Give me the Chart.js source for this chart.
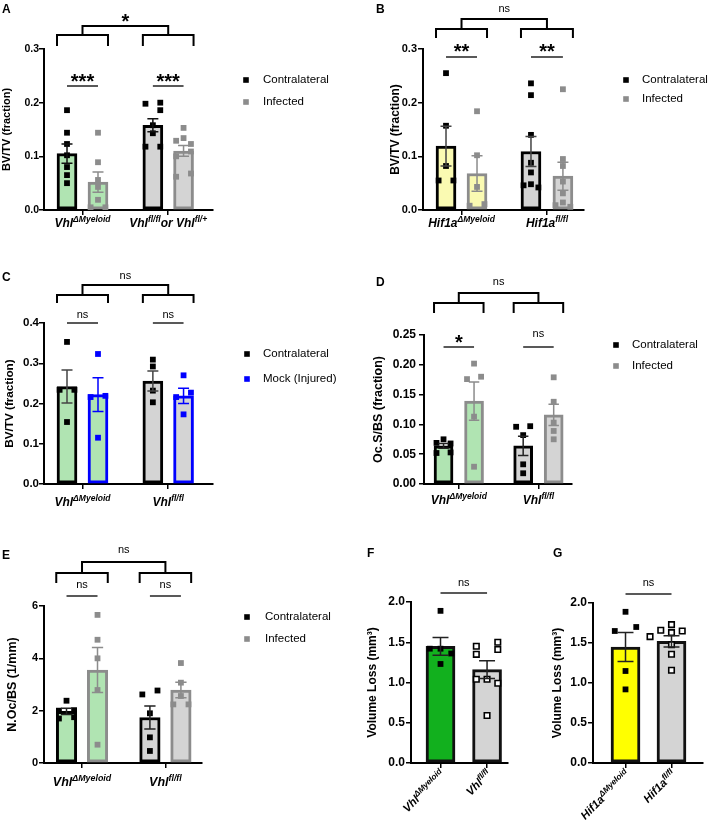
<!DOCTYPE html>
<html>
<head>
<meta charset="utf-8">
<script src="https://cdn.jsdelivr.net/npm/chart.js@4.4.0/dist/chart.umd.min.js"></script>
<style>
  body { margin:0; background:#fff; width:709px; height:829px; position:relative; overflow:hidden; }
  canvas { position:absolute; }
  .tag { position:absolute; font:bold 12px 'Liberation Sans', Arial, sans-serif; line-height:12px; color:#000; z-index:2; }
</style>
</head>
<body>
<div class="tag" style="left:2px;top:3px">A</div>
<div class="tag" style="left:376px;top:3px">B</div>
<div class="tag" style="left:2px;top:271px">C</div>
<div class="tag" style="left:376px;top:276px">D</div>
<div class="tag" style="left:2px;top:549px">E</div>
<div class="tag" style="left:367px;top:547px">F</div>
<div class="tag" style="left:553px;top:547px">G</div>
<script>
const FONT = "'Liberation Sans', Arial, Helvetica, sans-serif";

// ---- A: BV/TV, Vhl myeloid deletion, infected vs contralateral ----
const A_series = ['Contralateral', 'Infected'];
const A_groups = ['Vhl^{ΔMyeloid}', 'Vhl^{fl/fl}or Vhl^{fl/+}'];
const A_yTicks = [0, 0.1, 0.2, 0.3];
const A_mean = [0.105, 0.052, 0.158, 0.110];
const A_sem  = [0.018, 0.019, 0.012, 0.010];
const A_pts  = [
  [0.186, 0.144, 0.123, 0.102, 0.080, 0.065, 0.050],
  [0.144, 0.089, 0.056, 0.043, 0.019, 0.005, 0.005],
  [0.200, 0.198, 0.186, 0.158, 0.143, 0.118, 0.118],
  [0.153, 0.134, 0.129, 0.123, 0.109, 0.100, 0.068, 0.062]
];
const A_sigPairs = ['***', '***'];
const A_sigGroups = '*';

// ---- B: BV/TV, Hif1a myeloid deletion ----
const B_series = ['Contralateral', 'Infected'];
const B_groups = ['Hif1a^{ΔMyeloid}', 'Hif1a^{fl/fl}'];
const B_yTicks = [0, 0.1, 0.2, 0.3];
const B_mean = [0.119, 0.068, 0.109, 0.063];
const B_sem  = [0.037, 0.033, 0.028, 0.026];
const B_pts  = [
  [0.255, 0.157, 0.082, 0.055, 0.055],
  [0.184, 0.102, 0.043, 0.011, 0.008],
  [0.236, 0.214, 0.140, 0.088, 0.070, 0.048, 0.046, 0.042],
  [0.225, 0.095, 0.082, 0.053, 0.031, 0.014, 0.009, 0.006]
];
const B_sigPairs = ['**', '**'];
const B_sigGroups = 'ns';

// ---- C: BV/TV, mock injury ----
const C_series = ['Contralateral', 'Mock (Injured)'];
const C_groups = ['Vhl^{ΔMyeloid}', 'Vhl^{fl/fl}'];
const C_yTicks = [0, 0.1, 0.2, 0.3, 0.4];
const C_mean = [0.242, 0.222, 0.256, 0.219];
const C_sem  = [0.041, 0.042, 0.025, 0.019];
const C_pts  = [
  [0.353, 0.234, 0.234, 0.154],
  [0.323, 0.219, 0.216, 0.115],
  [0.309, 0.292, 0.232, 0.203],
  [0.270, 0.227, 0.216, 0.173]
];
const C_sigPairs = ['ns', 'ns'];
const C_sigGroups = 'ns';

// ---- D: Oc.S/BS ----
const D_series = ['Contralateral', 'Infected'];
const D_groups = ['Vhl^{ΔMyeloid}', 'Vhl^{fl/fl}'];
const D_yTicks = [0, 0.05, 0.10, 0.15, 0.20, 0.25];
const D_mean = [0.064, 0.139, 0.064, 0.116];
const D_sem  = [0.004, 0.032, 0.016, 0.018];
const D_pts  = [
  [0.075, 0.069, 0.068, 0.053, 0.052],
  [0.202, 0.180, 0.176, 0.113, 0.029],
  [0.097, 0.096, 0.082, 0.033, 0.018],
  [0.179, 0.138, 0.103, 0.089, 0.075]
];
const D_sigPairs = ['*', 'ns'];
const D_sigGroups = 'ns';

// ---- E: N.Oc/BS ----
const E_series = ['Contralateral', 'Infected'];
const E_groups = ['Vhl^{ΔMyeloid}', 'Vhl^{fl/fl}'];
const E_yTicks = [0, 2, 4, 6];
const E_mean = [1.97, 3.55, 1.74, 2.79];
const E_sem  = [0.12, 0.86, 0.44, 0.30];
const E_pts  = [
  [2.38, 2.02, 2.00, 1.75, 1.70],
  [5.66, 4.71, 4.00, 2.79, 0.70],
  [2.77, 2.62, 1.90, 0.98, 0.46],
  [3.82, 3.07, 2.56, 2.24, 2.24]
];
const E_sigPairs = ['ns', 'ns'];
const E_sigGroups = 'ns';

// ---- F / G: volume loss ----
const F_groups = ['Vhl^{ΔMyeloid}', 'Vhl^{fl/fl}'];
const F_yTicks = [0, 0.5, 1.0, 1.5, 2.0];
const F_mean = [1.45, 1.16];
const F_sem  = [0.11, 0.11];
const F_pts  = [
  [1.89, 1.42, 1.42, 1.36, 1.23],
  [1.50, 1.45, 1.41, 1.35, 1.04, 1.04, 0.99, 0.59]
];
const F_sigPairs = ['ns'];

const G_groups = ['Hif1a^{ΔMyeloid}', 'Hif1a^{fl/fl}'];
const G_yTicks = [0, 0.5, 1.0, 1.5, 2.0];
const G_mean = [1.45, 1.52];
const G_sem  = [0.18, 0.07];
const G_pts  = [
  [1.89, 1.70, 1.65, 1.15, 0.92],
  [1.73, 1.66, 1.65, 1.63, 1.58, 1.48, 1.36, 1.16]
];
const G_sigPairs = ['ns'];

// colours
const GREEN = '#b0e4b2', GREY = '#d4d4d4', PALEY = '#fafab2';
const BLK = '#000000', GRY = '#8c8c8c', BLUE = '#0000ff';

const four = (fills, edges, err, pfill) => ({fills, edges, err, pfill, pedge: pfill, pbw: 0});

const panels = [
  Object.assign({series: A_series, groups: A_groups, yTicks: A_yTicks, mean: A_mean, sem: A_sem, pts: A_pts,
    sigPairs: A_sigPairs, sigGroups: A_sigGroups, sercol: [BLK, GRY],
    box: [0, 0, 354, 270], area: [44, 49, 213, 210], slots: [0, 1, 2.77, 3.76], xRange: [-0.742, 4.71], barW: 20,
    yTitle: 'BV/TV (fraction)', titleSize: 11, titlePad: 0.4, tickSize: 10.5, tickPad: 0, dec: 1,
    br: {top: -23, group: -14, drop: 11, pair: 37, topLab: -33, pairLab: [27, 27]},
    legend: {x: 33, gap: 17, y: [31, 53]}, catDy: 17, catSize: 12},
    four([GREEN, GREEN, GREY, GREY], [BLK, GRY, BLK, GRY], ['#111', GRY, '#111', GRY], [BLK, GRY, BLK, GRY])),
  Object.assign({series: B_series, groups: B_groups, yTicks: B_yTicks, mean: B_mean, sem: B_sem, pts: B_pts,
    sigPairs: B_sigPairs, sigGroups: B_sigGroups, sercol: [BLK, GRY],
    box: [354, 0, 355, 270], area: [423, 49, 584, 210], slots: [0, 1, 2.74, 3.77], xRange: [-0.742, 4.45], barW: 20,
    yTitle: 'BV/TV (fraction)', titleSize: 12, titlePad: 34.8, tickSize: 11, tickPad: 1, dec: 1,
    br: {top: -30, group: -20, drop: 9, pair: 8, topLab: -40, pairLab: [-3, -3]},
    legend: {x: 42, gap: 16, y: [31, 50]}, catDy: 17, catSize: 12},
    four([PALEY, PALEY, GREY, GREY], [BLK, GRY, BLK, GRY], ['#444', GRY, '#444', GRY], [BLK, GRY, BLK, GRY])),
  Object.assign({series: C_series, groups: C_groups, yTicks: C_yTicks, mean: C_mean, sem: C_sem, pts: C_pts,
    sigPairs: C_sigPairs, sigGroups: C_sigGroups, sercol: [BLK, BLUE],
    box: [0, 262, 354, 278], area: [44, 323, 213, 484], slots: [0, 1, 2.77, 3.76], xRange: [-0.742, 4.71], barW: 20,
    yTitle: 'BV/TV (fraction)', titleSize: 11.7, titlePad: 3, tickSize: 11.5, tickPad: 0, dec: 1,
    br: {top: -38, group: -28, drop: 8, pair: 0, topLab: -47, pairLab: [-8.5, -8.5]},
    legend: {x: 34, gap: 16, y: [31, 56]}, catDy: 22, catSize: 12},
    four([GREEN, GREEN, GREY, GREY], [BLK, BLUE, BLK, BLUE], ['#444', BLUE, '#444', BLUE], [BLK, BLUE, BLK, BLUE])),
  Object.assign({series: D_series, groups: D_groups, yTicks: D_yTicks, mean: D_mean, sem: D_sem, pts: D_pts,
    sigPairs: D_sigPairs, sigGroups: D_sigGroups, sercol: [BLK, GRY],
    box: [354, 266, 355, 274], area: [424, 335, 572, 484], slots: [0, 1, 2.61, 3.61], xRange: [-0.64, 4.21], barW: 19,
    yTitle: 'Oc.S/BS (fraction)', titleSize: 12.5, titlePad: 17.4, tickSize: 12, tickPad: 3, dec: 2,
    br: {top: -42, group: -32, drop: 10, pair: 12, topLab: -53, pairLab: [2, -1]},
    legend: {x: 44, gap: 16, y: [10, 31]}, catDy: 20, catSize: 12},
    four([GREEN, GREEN, GREY, GREY], [BLK, GRY, BLK, GRY], ['#222', GRY, '#222', GRY], [BLK, GRY, BLK, GRY])),
  Object.assign({series: E_series, groups: E_groups, yTicks: E_yTicks, mean: E_mean, sem: E_sem, pts: E_pts,
    sigPairs: E_sigPairs, sigGroups: E_sigGroups, sercol: [BLK, GRY],
    box: [0, 540, 354, 289], area: [44, 606, 202, 763], slots: [0, 1, 2.69, 3.69], xRange: [-0.726, 4.37], barW: 20.5,
    yTitle: 'N.Oc/BS (1/mm)', titleSize: 12.5, titlePad: 5.4, tickSize: 11, tickPad: 1, dec: 0,
    br: {top: -44, group: -33, drop: 10, pair: -10, topLab: -56, pairLab: [-21, -21]},
    legend: {x: 45, gap: 18, y: [11, 33]}, catDy: 23, catSize: 12.5},
    four([GREEN, GREEN, GREY, GREY], [BLK, GRY, BLK, GRY], ['#222', GRY, '#222', GRY], [BLK, GRY, BLK, GRY])),
  {groups: F_groups, yTicks: F_yTicks, mean: F_mean, sem: F_sem, pts: F_pts, sigPairs: F_sigPairs,
    box: [354, 550, 196, 279], area: [411, 602, 508, 763], slots: [0, 1], xRange: [-0.634, 1.45], barW: 29,
    yTitle: 'Volume Loss (mm³)', titleSize: 12, titlePad: 11.8, tickSize: 12, tickPad: 1, dec: 1,
    br: {pair: -9, pairLab: [-19]}, rotate: true, catSize: 11.5,
    fills: ['#12b01e', GREY], edges: ['#111', '#111'], err: ['#222', '#222'],
    pfill: [BLK, '#ffffff'], pedge: [BLK, BLK], pbw: [0, 1.6]},
  {groups: G_groups, yTicks: G_yTicks, mean: G_mean, sem: G_sem, pts: G_pts, sigPairs: G_sigPairs,
    box: [550, 550, 159, 279], area: [593, 603, 703, 763], slots: [0, 1], xRange: [-0.707, 1.685], barW: 29,
    yTitle: 'Volume Loss (mm³)', titleSize: 12, titlePad: 0, tickSize: 12, tickPad: 1, dec: 1,
    br: {pair: -9, pairLab: [-20]}, rotate: true, catSize: 11.5,
    fills: ['#ffff00', GREY], edges: ['#111', '#111'], err: ['#222', '#222'],
    pfill: [BLK, '#ffffff'], pedge: [BLK, BLK], pbw: [0, 1.6]}
];

// simple beeswarm: spread points that would overlap (pixel offsets)
function swarm(vals, pxY, step, d) {
  const order = vals.map((v, i) => i).sort((a, b) => vals[b] - vals[a]);
  const off = new Array(vals.length).fill(0);
  const placed = [];
  const cands = [0, -step, step, -2 * step, 2 * step];
  for (const i of order) {
    const y = vals[i] * pxY;
    const c = cands.find(c => placed.every(j => Math.abs(vals[j] * pxY - y) >= d || Math.abs(off[j] - c) >= d));
    off[i] = c === undefined ? 0 : c;
    placed.push(i);
  }
  for (const i of order) {
    if (off[i] !== 0) continue;
    const nb = placed.filter(j => j !== i && Math.abs(vals[j] - vals[i]) * pxY < d);
    if (nb.length && nb.every(j => off[j] === -step)) off[i] = step;
  }
  return off;
}

function richParts(str) {
  const parts = [], re = /\^\{([^}]*)\}/g;
  let last = 0, m;
  while ((m = re.exec(str))) {
    if (m.index > last) parts.push({t: str.slice(last, m.index), sup: false});
    parts.push({t: m[1], sup: true});
    last = re.lastIndex;
  }
  if (last < str.length) parts.push({t: str.slice(last), sup: false});
  return parts;
}

function drawRich(ctx, str, x, y, align, size) {
  const parts = richParts(str);
  const f = sup => `italic bold ${sup ? size * 0.71 : size}px ${FONT}`;
  let w = 0;
  parts.forEach(pt => { ctx.font = f(pt.sup); pt.w = ctx.measureText(pt.t).width; w += pt.w; });
  let cx = align === 'center' ? x - w / 2 : x - w;
  ctx.textAlign = 'left'; ctx.textBaseline = 'alphabetic';
  parts.forEach(pt => {
    ctx.font = f(pt.sup);
    ctx.fillText(pt.t, cx, y - (pt.sup ? size * 0.38 : 0));
    cx += pt.w;
  });
}

function sigText(ctx, s, x, cy) {
  ctx.fillStyle = '#000'; ctx.textAlign = 'center'; ctx.textBaseline = 'alphabetic';
  if (s === 'ns') { ctx.font = `11px ${FONT}`; ctx.fillText(s, x, cy + 3); }
  else { ctx.font = `bold 20px ${FONT}`; ctx.fillText(s, x, cy + 11.5); }
}

function drawErrorBars(chart, p) {
  const ctx = chart.ctx, xs = chart.scales.x, ys = chart.scales.y;
  const cap = p.barW * 0.55 / 2;
  ctx.save();
  ctx.lineWidth = 1.5;
  p.mean.forEach((m, i) => {
    const x = xs.getPixelForValue(p.slots[i]);
    const y1 = ys.getPixelForValue(m + p.sem[i]), y0 = ys.getPixelForValue(m - p.sem[i]);
    ctx.strokeStyle = p.err[i];
    ctx.beginPath();
    ctx.moveTo(x, y0); ctx.lineTo(x, y1);
    ctx.moveTo(x - cap, y1); ctx.lineTo(x + cap, y1);
    ctx.moveTo(x - cap, y0); ctx.lineTo(x + cap, y0);
    ctx.stroke();
  });
  ctx.restore();
}

function drawDecor(chart, p) {
  const ctx = chart.ctx, a = chart.chartArea, xs = chart.scales.x;
  const X = i => xs.getPixelForValue(p.slots[i]);
  const hw = p.barW / 2, b = p.br;
  ctx.save();
  // group comparison brackets
  if (b.group !== undefined) {
    ctx.strokeStyle = '#000'; ctx.lineWidth = 2;
    const gy = a.top + b.group, dy = gy + b.drop, ty = a.top + b.top, mids = [];
    for (let g = 0; g < 2; g++) {
      const l = X(2 * g) - hw, r = X(2 * g + 1) + hw;
      mids.push((l + r) / 2);
      ctx.beginPath(); ctx.moveTo(l, dy); ctx.lineTo(l, gy); ctx.lineTo(r, gy); ctx.lineTo(r, dy); ctx.stroke();
    }
    ctx.beginPath(); ctx.moveTo(mids[0], gy); ctx.lineTo(mids[0], ty); ctx.lineTo(mids[1], ty); ctx.lineTo(mids[1], gy); ctx.stroke();
    sigText(ctx, p.sigGroups, (mids[0] + mids[1]) / 2, a.top + b.topLab);
  }
  // pairwise lines
  p.sigPairs.forEach((s, g) => {
    const l = X(2 * g), r = X(2 * g + 1), y = a.top + b.pair;
    ctx.strokeStyle = '#222'; ctx.lineWidth = 1.5;
    ctx.beginPath(); ctx.moveTo(l, y); ctx.lineTo(r, y); ctx.stroke();
    sigText(ctx, s, (l + r) / 2, a.top + b.pairLab[g]);
  });
  // legend
  if (p.legend) {
    p.series.forEach((name, k) => {
      const x = a.right + p.legend.x, y = a.top + p.legend.y[k];
      ctx.fillStyle = p.sercol[k]; ctx.fillRect(x - 2.8, y - 2.8, 5.6, 5.6);
      ctx.fillStyle = '#000'; ctx.font = `11.5px ${FONT}`;
      ctx.textAlign = 'left'; ctx.textBaseline = 'middle';
      ctx.fillText(name, x + p.legend.gap, y);
    });
  }
  // category labels
  ctx.fillStyle = '#000';
  if (p.rotate) {
    p.groups.forEach((g, i) => {
      ctx.save();
      ctx.translate(X(i) + 2, a.bottom + 9);
      ctx.rotate(-Math.PI / 4);
      drawRich(ctx, g, 0, p.catSize * 0.36, 'right', p.catSize);
      ctx.restore();
    });
  } else {
    const ticks = xs.ticks;
    p.groups.forEach((g, i) => drawRich(ctx, g, xs.getPixelForValue(ticks[i].value), a.bottom + p.catDy, 'center', p.catSize));
  }
  ctx.restore();
}

function makePanel(p) {
  const [bx, by, bw, bh] = p.box, [al, at, ar, ab] = p.area;
  const c = document.createElement('canvas');
  c.width = bw; c.height = bh;
  c.style.left = bx + 'px'; c.style.top = by + 'px';
  c.style.width = bw + 'px'; c.style.height = bh + 'px';
  document.body.appendChild(c);

  const xH = 10;
  const yMin = p.yTicks[0], yMax = p.yTicks[p.yTicks.length - 1];
  const pxY = (ab - at) / (yMax - yMin);
  const pxX = (ar - al) / (p.xRange[1] - p.xRange[0]);
  const xTicks = p.slots.length === 4 ? [(p.slots[0] + p.slots[1]) / 2, (p.slots[2] + p.slots[3]) / 2] : p.slots.slice();

  const datasets = [{
    type: 'bar', order: 3,
    data: p.mean.map((m, i) => ({x: p.slots[i], y: m})),
    backgroundColor: p.fills, borderColor: p.edges, borderWidth: 3, borderSkipped: false,
    barThickness: p.barW
  }];
  p.pts.forEach((vals, i) => {
    const off = swarm(vals, pxY, p.barW * 0.37, 6.5);
    const bw = Array.isArray(p.pbw) ? p.pbw[i] : p.pbw;
    datasets.push({
      type: 'scatter', order: 2,
      data: vals.map((v, k) => ({x: p.slots[i] + off[k] / pxX, y: v})),
      pointStyle: 'rect', pointRadius: bw ? 3.9 : 4.1,
      pointBackgroundColor: p.pfill[i], pointBorderColor: p.pedge[i], pointBorderWidth: bw,
      pointHoverRadius: 4
    });
  });

  const tickLine = {display: true, drawOnChartArea: false, drawTicks: true, tickLength: 5, color: '#000', lineWidth: 1.5};
  new Chart(c, {
    type: 'bar',
    data: {datasets},
    options: {
      responsive: false, animation: false, devicePixelRatio: 1,
      events: [],
      layout: {padding: {left: 0, top: at - by, right: bx + bw - ar, bottom: by + bh - ab - xH}},
      plugins: {legend: {display: false}, tooltip: {enabled: false}},
      scales: {
        x: {
          type: 'linear', min: p.xRange[0], max: p.xRange[1], offset: false,
          afterBuildTicks: s => { s.ticks = xTicks.map(v => ({value: v})); },
          afterFit: s => { s.height = xH; },
          ticks: {display: false},
          grid: Object.assign({offset: false}, tickLine),
          border: {display: true, color: '#000', width: 2}
        },
        y: {
          type: 'linear', min: yMin, max: yMax,
          afterBuildTicks: s => { s.ticks = p.yTicks.map(v => ({value: v})); },
          afterFit: s => { s.width = al - bx; },
          ticks: {callback: v => v.toFixed(p.dec), color: '#000', padding: p.tickPad,
                  font: {family: FONT, weight: 'bold', size: p.tickSize}},
          grid: tickLine,
          border: {display: true, color: '#000', width: 2},
          title: {display: true, text: p.yTitle, color: '#000', padding: {top: p.titlePad, bottom: 0},
                  font: {family: FONT, weight: 'bold', size: p.titleSize}}
        }
      }
    },
    plugins: [{
      id: 'decor',
      afterDatasetsDraw: chart => drawErrorBars(chart, p),
      afterDraw: chart => drawDecor(chart, p)
    }]
  });
}

panels.forEach(makePanel);
</script>
</body>
</html>
